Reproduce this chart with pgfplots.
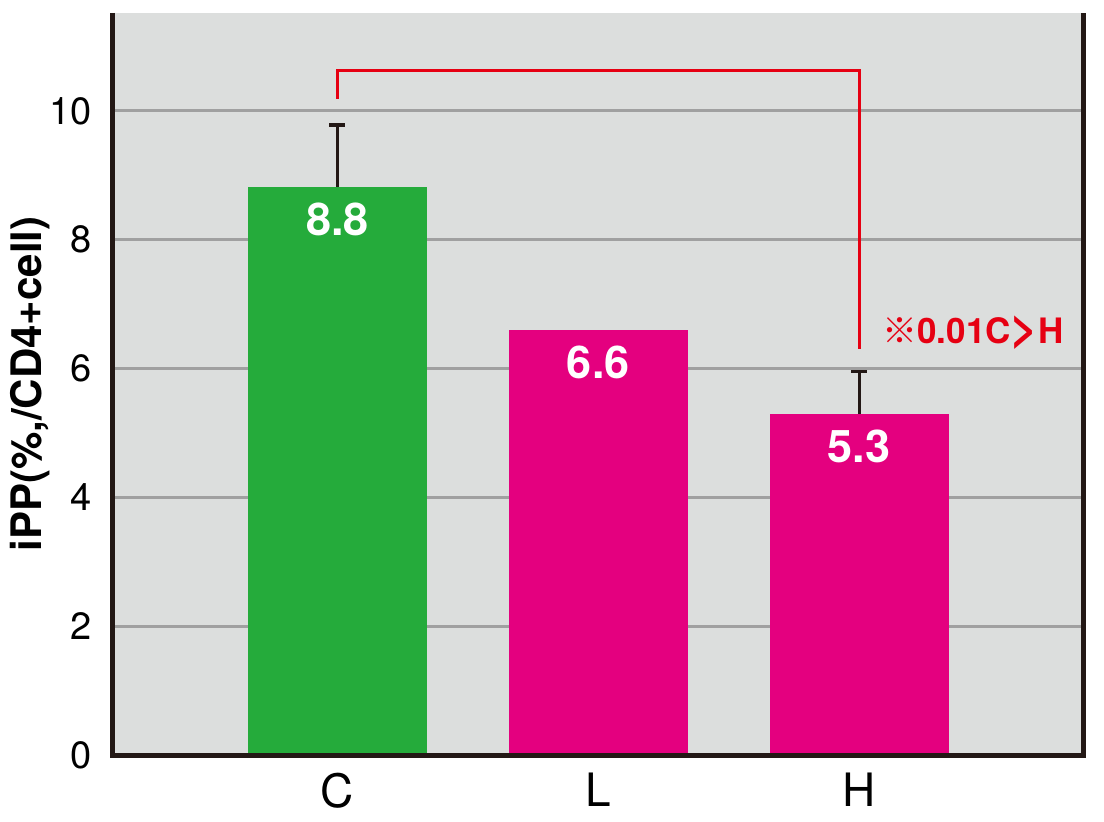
\documentclass[border=0pt]{standalone}
\usepackage{pgfplots}
\pgfplotsset{compat=1.18}
\usepackage{fontspec}
\setmainfont{TeX Gyre Heros}
\newfontfamily\cjk{Noto Sans CJK JP}
\definecolor{bggray}{HTML}{DCDEDD}
\definecolor{gridgray}{HTML}{A0A0A0}
\definecolor{cgreen}{HTML}{25AB3B}
\definecolor{cmag}{HTML}{E4007F}
\definecolor{sigred}{HTML}{E60012}
\definecolor{axdark}{HTML}{231815}
\begin{document}
\begin{tikzpicture}
\begin{axis}[
  scale only axis, width=485pt, height=371pt,
  xmin=-0.860, xmax=2.858, ymin=0, ymax=11.52,
  axis line style={draw=none},
  axis background/.style={fill=bggray},
  ytick={0,2,4,6,8,10}, xtick={0,1,2}, xticklabels={C,L,H},
  major tick length=0pt,
  ymajorgrids, grid style={color=gridgray, line width=1.5pt},
  /pgf/number format/assume math mode=true,
  y tick label style={font=\fontsize{19}{19}\selectfont, inner sep=0pt, anchor=east, xshift=-10.5pt},
  x tick label style={font=\fontsize{23}{23}\selectfont, inner sep=0pt, anchor=north, yshift=-9pt},
  clip=false,
  bar width=0.686, bar shift=0pt,
  barlab/.style={point meta=explicit symbolic, nodes near coords,
    every node near coord/.append style={anchor=center, yshift=-16.5pt, text=white, inner sep=0pt,
      font=\bfseries\fontsize{22.5}{22.5}\selectfont}},
  ebar/.style={error bars/.cd, y dir=plus, y explicit,
    error bar style={line width=1.6pt, draw=axdark},
    error mark options={rotate=90, line width=1.6pt, mark size=4pt, draw=axdark}},
]
\addplot[ybar, fill=cgreen, draw=none, barlab, ebar] table[x=x, y=y, y error=ey, meta=lab] {
x y ey lab
0 8.82 0.96 8.8
};
\addplot[ybar, fill=cmag, draw=none, barlab] table[x=x, y=y, meta=lab] {
x y lab
1 6.60 6.6
};
\addplot[ybar, fill=cmag, draw=none, barlab, ebar] table[x=x, y=y, y error=ey, meta=lab] {
x y ey lab
2 5.30 0.66 5.3
};
\addplot[color=sigred, line width=1.4pt, mark=none] coordinates {(0,10.19) (0,10.63) (2,10.63) (2,6.30)};
\node[anchor=west, text=sigred, inner sep=0pt, font=\bfseries\fontsize{17.5}{17.5}\selectfont] at (axis cs:2.088,6.55) {{\cjk ※}0.01C\raisebox{-0.5pt}{\scalebox{1.35}{>}}H};
\node[rotate=90, inner sep=0pt, font=\bfseries\fontsize{21}{21}\selectfont] at ([xshift=-41.5pt]rel axis cs:0,0.5) {iPP(\%,/CD4+cell)};
\draw[axdark, line width=2.5pt] (rel axis cs:0,1) -- (rel axis cs:0,0) -- (rel axis cs:1,0) -- (rel axis cs:1,1);
\coordinate (BL) at (rel axis cs:0,0);
\coordinate (TR) at (rel axis cs:1,1);
\end{axis}
\pgfresetboundingbox
\path ([shift={(-56.5pt,-33pt)}]BL) rectangle ([shift={(10.5pt,6.5pt)}]TR);
\end{tikzpicture}
\end{document}
